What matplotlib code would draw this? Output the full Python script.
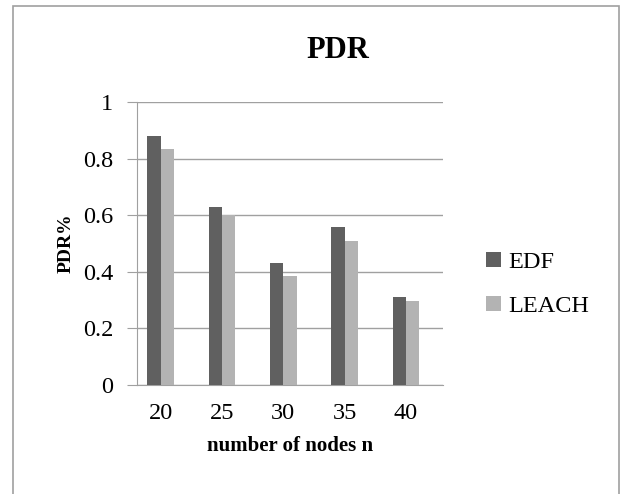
import numpy as np
import matplotlib
matplotlib.use("Agg")
import matplotlib.pyplot as plt
from matplotlib.patches import Rectangle

# ---- data ----
nodes = ["20", "25", "30", "35", "40"]
edf = [0.88, 0.63, 0.43, 0.56, 0.31]
leach = [0.835, 0.60, 0.385, 0.51, 0.295]

plt.rcParams["font.family"] = ["Liberation Serif", "DejaVu Serif"]

fig = plt.figure(figsize=(6.2, 4.94), dpi=100)
ax = fig.add_axes([0.2205, 0.2213, 0.4935, 0.5717])

x = np.arange(len(nodes))
w = 0.217
ax.bar(x - w / 2, edf, w, color="#606060", label="EDF", zorder=3)
ax.bar(x + w / 2, leach, w, color="#b3b3b3", label="LEACH", zorder=3)

ax.set_xlim(-0.39, 4.6)
ax.set_ylim(0, 1)
ax.set_yticks([0, 0.2, 0.4, 0.6, 0.8, 1.0])
ax.set_yticklabels(["0", "0.2", "0.4", "0.6", "0.8", "1"])
ax.set_xticks(x)
ax.set_xticklabels(nodes)

ax.grid(axis="y", color="#a0a0a0", linewidth=1, zorder=0)
for s in ["top", "right"]:
    ax.spines[s].set_visible(False)
ax.spines["left"].set_color("#a0a0a0")
ax.spines["bottom"].set_color("#a0a0a0")
ax.spines["left"].set_zorder(4)

ax.tick_params(axis="y", length=7, color="#a0a0a0", labelsize=17.5, pad=10)
ax.tick_params(axis="x", length=0, labelsize=17.5, pad=13)

ax.set_xlabel("number of nodes n", fontsize=15, fontweight="bold", labelpad=9)
ax.set_ylabel("PDR%", fontsize=14, fontweight="bold", labelpad=6)

fig.text(0.545, 0.897, "PDR", fontsize=22, fontweight="bold", ha="center", va="center")

ax.legend(loc="center left", bbox_to_anchor=(1.07, 0.355), frameon=False,
          fontsize=17.5, handlelength=0.6, handleheight=0.6, handletextpad=0.3,
          labelspacing=0.95)

# outer chart frame
fig.patches.append(Rectangle((13 / 620, -0.02), 606 / 620, 1.008, transform=fig.transFigure,
                             fill=False, edgecolor="#a0a0a0", linewidth=1.2))

fig.savefig("out.png", dpi=100)
